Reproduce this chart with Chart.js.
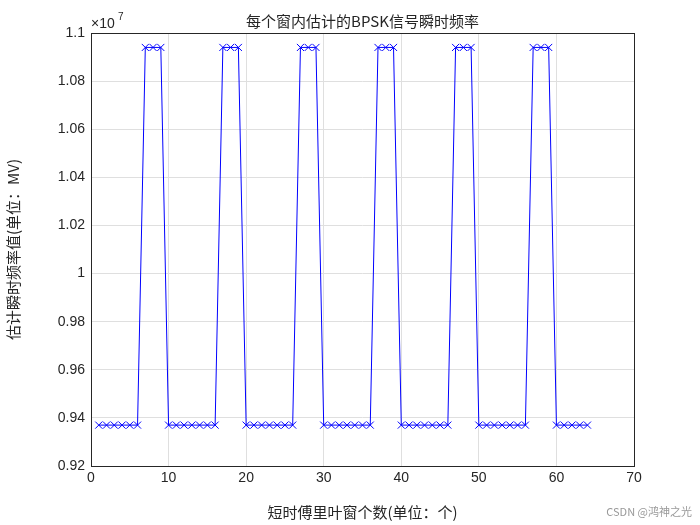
<!DOCTYPE html>
<html><head><meta charset="utf-8">
<script src="https://cdn.jsdelivr.net/npm/chart.js@4"></script>
<style>body{margin:0;background:#fff}</style>
</head><body><canvas id="c" width="700" height="525"></canvas>
<script>
// window index 1..64, estimated frequency (x 1e7)
const winIdx = [];
for (let i = 1; i <= 64; i++) winIdx.push(i);
const lowVal = 0.937, highVal = 1.094;
const highWins = [7,8,9,17,18,19,27,28,29,37,38,39,47,48,49,57,58,59];
const freqVals = winIdx.map(i => highWins.includes(i) ? highVal : lowVal);
const yTicks = [0.92,0.94,0.96,0.98,1,1.02,1.04,1.06,1.08,1.1];

const font = {family: 'Liberation Sans, Arial, sans-serif', size: 14};
const cjk = 'Noto Sans CJK SC, sans-serif';

const frame = {
  id: 'frame',
  afterDraw(ch) {
    const a = ch.chartArea, g = ch.ctx;
    g.save();
    g.strokeStyle = '#262626'; g.lineWidth = 1;
    g.strokeRect(a.left + 0.5, a.top + 0.5, a.right - a.left, a.bottom - a.top);
    g.fillStyle = '#262626';
    g.font = '15px ' + cjk; g.textAlign = 'center';
    g.fillText('每个窗内估计的BPSK信号瞬时频率', (a.left + a.right) / 2, 27);
    g.font = '14px Liberation Sans, Arial'; g.textAlign = 'left';
    g.fillText('×10', a.left, 28);
    g.font = '10px Liberation Sans, Arial';
    g.fillText('7', a.left + 27, 20);
    g.fillStyle = '#999'; g.font = '11px ' + cjk; g.textAlign = 'right';
    g.fillText('CSDN @鸿神之光', 692, 516);
    g.restore();
  }
};

new Chart(document.getElementById('c'), {
  type: 'line',
  data: {
    labels: winIdx,
    datasets: [{
      data: winIdx.map((x, k) => ({x: x, y: freqVals[k]})),
      borderColor: '#0000ff', borderWidth: 1,
      pointStyle: 'crossRot', pointRadius: 5, pointBorderColor: '#0000ff',
      pointBorderWidth: 1, tension: 0, fill: false
    }]
  },
  options: {
    responsive: false, animation: false,
    devicePixelRatio: 1,
    layout: {padding: {top: 33, right: 66, left: 0, bottom: 0}},
    plugins: {legend: {display: false}, tooltip: {enabled: false}},
    scales: {
      x: {
        type: 'linear', min: 0, max: 70,
        ticks: {stepSize: 10, color: '#262626', font: font, padding: 4},
        grid: {color: '#dfdfdf', drawTicks: false},
        border: {display: false},
        title: {display: true, text: '短时傅里叶窗个数(单位：个)', color: '#262626',
                font: {family: cjk, size: 15}, padding: {top: 2}},
        afterFit(s) { s.height = 59; }
      },
      y: {
        min: 0.92, max: 1.1,
        afterBuildTicks(s) { s.ticks = yTicks.map(v => ({value: v})); },
        ticks: {color: '#262626', font: font, padding: 6,
                callback: v => String(parseFloat(v.toFixed(2)))},
        grid: {color: '#dfdfdf', drawTicks: false},
        border: {display: false},
        title: {display: true, text: '估计瞬时频率值(单位：MV)', color: '#262626',
                font: {family: cjk, size: 15}, padding: {bottom: 4}},
        afterFit(s) { s.width = 91; }
      }
    }
  },
  plugins: [frame]
});
</script>
</body></html>
